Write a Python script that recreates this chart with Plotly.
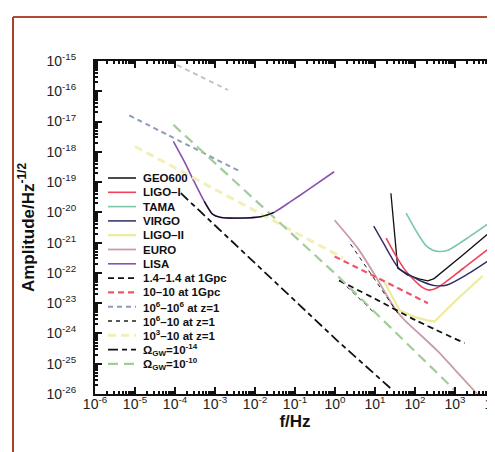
import plotly.graph_objects as go

# values: f in Hz, amplitude in Hz^-1/2

# ground based detectors
geo_f = [25, 31, 37, 66, 126, 209, 300, 1600, 9800]
geo_h = [4.3e-20, 1.4e-21, 1.45e-22, 8.5e-23, 6.3e-23, 5.5e-23, 6.5e-23, 4.0e-22, 3.0e-21]

ligo1_f = [19, 32, 56, 100, 160, 224, 370, 1600, 9800]
ligo1_h = [1.4e-21, 4.0e-22, 1.26e-22, 5.4e-23, 3.2e-23, 2.7e-23, 3.3e-23, 1.4e-22, 8.9e-22]

tama_f = [60, 117, 186, 280, 400, 660, 2500, 9800]
tama_h = [9.5e-21, 2.0e-21, 8.1e-22, 5.6e-22, 5.1e-22, 5.6e-22, 1.7e-21, 6.0e-21]

virgo_f = [9.3, 16, 25, 40, 80, 160, 316, 630, 2000, 9800]
virgo_h = [3.5e-21, 1.0e-21, 3.5e-22, 1.4e-22, 8.0e-23, 5.0e-23, 3.8e-23, 4.0e-23, 8.9e-23, 3.5e-22]

ligo2_f = [17, 41, 100, 200, 310, 1200, 4900]
ligo2_h = [5.2e-23, 5.8e-24, 3.5e-24, 2.7e-24, 2.5e-24, 1.45e-23, 7.9e-23]

euro_f = [0.98, 3.7, 9.8, 31, 55, 138, 370, 1000, 3600]
euro_h = [5.5e-21, 6.6e-22, 8.7e-23, 6.8e-24, 2.75e-24, 8.9e-25, 2.6e-25, 6.3e-26, 1.0e-26]

# space detector
lisa_f = [9.1e-5, 1.7e-4, 3.0e-4, 5.4e-4, 8.7e-4, 1.4e-3, 4.5e-3, 1.4e-2, 3.0e-2, 7.9e-2, 0.21, 0.95]
lisa_h = [2.2e-18, 4.8e-19, 1.05e-19, 2.3e-20, 8.7e-21, 6.8e-21, 6.5e-21, 7.2e-21, 1.0e-20,
          2.3e-20, 5.5e-20, 2.2e-19]

# sources
ns14_f = [1.26, 10, 100, 1740]
ns14_h = [5.6e-23, 1.4e-23, 2.8e-24, 4.8e-25]

bh10_f = [0.98, 12, 210]
bh10_h = [3.5e-22, 6.8e-23, 1.0e-23]

mbh66_f = [7.2e-6, 6.6e-5, 4.1e-3]
mbh66_h = [1.6e-17, 3.6e-18, 2.3e-19]

mbh_top_f = [7.0e-5, 3.7e-4, 2.1e-3]
mbh_top_h = [1.0e-15, 3.4e-16, 1.1e-16]

emri_f = [1.4, 9.8, None, 2.45, 37]
emri_h = [5.4e-23, 4.7e-24, None, 8.9e-22, 4.7e-24]

imbh_f = [1e-5, 1e-2, 1.6]
imbh_h = [1.5e-18, 1.1e-20, 3.1e-22]

om14_f = [1.4e-4, 1.17, 27.5]
om14_h = [4.3e-20, 5.6e-25, 1.35e-26]

om10_f = [9.1e-5, 1.17, 980]
om10_h = [7.8e-18, 7.9e-23, 1.35e-26]

x_exps = list(range(-6, 5))
y_exps = list(range(-26, -14))

# name, f, h, colour, width, dash, shape, in legend
series = [
    ("GEO600", geo_f, geo_h, "#111111", 1.3, "solid", "linear", True),
    ("LIGO–I", ligo1_f, ligo1_h, "#f0405a", 1.6, "solid", "spline", True),
    ("TAMA", tama_f, tama_h, "#7cc8a8", 1.6, "solid", "spline", True),
    ("VIRGO", virgo_f, virgo_h, "#2c2c66", 1.4, "solid", "spline", True),
    ("LIGO–II", ligo2_f, ligo2_h, "#eeec9a", 2.2, "solid", "linear", True),
    ("EURO", euro_f, euro_h, "#c99ca6", 1.8, "solid", "spline", True),
    ("LISA", lisa_f, lisa_h, "#8a50b0", 1.6, "solid", "spline", True),
    ("1.4–1.4 at 1Gpc", ns14_f, ns14_h, "#111111", 1.8, "6px,4px", "spline", True),
    ("10–10 at 1Gpc", bh10_f, bh10_h, "#f05565", 2.2, "6px,4px", "linear", True),
    ("10<sup>6</sup>–10<sup>6</sup> at z=1", mbh66_f, mbh66_h, "#8a9cb8", 2.0, "5px,4px", "spline", True),
    ("10<sup>6</sup>–10 at z=1", emri_f, emri_h, "#222222", 1.0, "4px,4px", "linear", True),
    ("10<sup>3</sup>–10 at z=1", imbh_f, imbh_h, "#f2f0b8", 3.0, "8px,5px", "linear", True),
    ("Ω<sub>GW</sub>=10<sup>-14</sup>", om14_f, om14_h, "#111111", 1.8, "10px,4px,5px,4px", "linear", True),
    ("Ω<sub>GW</sub>=10<sup>-10</sup>", om10_f, om10_h, "#a2cc9a", 2.2, "10px,6px", "linear", True),
    ("", mbh_top_f, mbh_top_h, "#b8c4bc", 1.8, "5px,4px", "spline", False),
]

fig = go.Figure()
for name, f, h, col, w, dash, shape, _ in series:
    fig.add_trace(go.Scatter(x=f, y=h, mode="lines", name=name, showlegend=False,
                             line=dict(color=col, width=w, dash=dash, shape=shape, smoothing=0.7),
                             connectgaps=False))

# the bottom of the LISA curve prints black in the scan
fig.add_trace(go.Scatter(x=lisa_f[3:9], y=lisa_h[3:9], mode="lines", showlegend=False,
                         line=dict(color="#111111", width=1.2, shape="spline", smoothing=0.7)))

# plot area in window pixels
L, T, B = 87, 53, 386
def px(x):
    return (x - L) / 400.0
def py(y):
    return (B - y) / (B - T)

# hand built legend (plotly's legend rows are too tall for this layout)
shapes = []
annotations = []
row = 0
for name, f, h, col, w, dash, shape, leg in series:
    if not leg:
        continue
    yy = py(170 + row * 14.3)
    shapes.append(dict(type="line", xref="paper", yref="paper", x0=px(100), x1=px(128),
                       y0=yy, y1=yy, line=dict(color=col, width=max(w, 1.5), dash=dash)))
    annotations.append(dict(text=name, xref="paper", yref="paper", x=px(133), y=yy,
                            xanchor="left", yanchor="middle", showarrow=False,
                            font=dict(family="Liberation Sans", size=11.5, color="#111111", weight="bold")))
    row += 1

# scan frame
shapes.append(dict(type="line", xref="paper", yref="paper", x0=px(5), x1=px(495), y0=py(9), y1=py(9),
                   line=dict(color="#b04a30", width=2)))
shapes.append(dict(type="line", xref="paper", yref="paper", x0=px(5), x1=px(5), y0=py(9), y1=py(452),
                   line=dict(color="#a8402a", width=2)))
shapes.append(dict(type="line", xref="paper", yref="paper", x0=px(70), x1=px(400), y0=py(450), y1=py(450),
                   line=dict(color="#dcc4bc", width=1.5)))

tick_font = dict(family="Liberation Sans", size=14, color="#222222")
axis_common = dict(type="log", showgrid=False, zeroline=False, showline=True, linecolor="#111111",
                   linewidth=2, mirror="allticks", ticks="inside", ticklen=7, tickwidth=1.5,
                   tickcolor="#111111", tickfont=tick_font, automargin=False,
                   ticklabeloverflow="allow")

fig.update_layout(
    width=495, height=452,
    margin=dict(l=87, r=8, t=53, b=66),
    paper_bgcolor="white", plot_bgcolor="white",
    showlegend=False,
    shapes=shapes, annotations=annotations,
    xaxis=dict(axis_common, range=[-6, 4],
               tickmode="array", tickvals=[10.0 ** e for e in x_exps],
               ticktext=["10<sup>%d</sup>" % e for e in x_exps],
               minor=dict(ticks="inside", ticklen=3, tickcolor="#111111",
                          tickvals=[m * 10.0 ** e for e in x_exps[:-1] for m in range(2, 10)]),
               ticklabelstandoff=-4,
               title=dict(text="f/Hz", standoff=0,
                          font=dict(family="Liberation Sans", size=17, color="#111111", weight="bold"))),
    yaxis=dict(axis_common, range=[-26, -15],
               tickmode="array", tickvals=[10.0 ** e for e in y_exps],
               ticktext=["10<sup>%d</sup>" % e for e in y_exps],
               minor=dict(ticks="inside", ticklen=3, tickcolor="#111111",
                          tickvals=[m * 10.0 ** e for e in y_exps[:-1] for m in range(2, 10)]),
               ticklabelstandoff=14,
               title=dict(text="Amplitude/Hz<sup>-1/2</sup>", standoff=8,
                          font=dict(family="Liberation Sans", size=17, color="#111111", weight="bold"))),
)

fig.write_html("out.html")
